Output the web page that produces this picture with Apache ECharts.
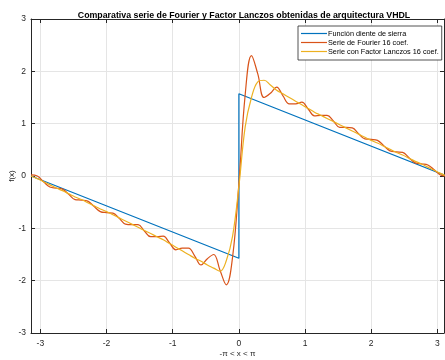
<!DOCTYPE html>
<html>
<head>
<meta charset="utf-8">
<script src="https://cdn.jsdelivr.net/npm/echarts@6/dist/echarts.min.js"></script>
<style>
    html, body { margin: 0; padding: 0; background: #fff; }
    #chart { width: 445px; height: 360px; }
</style>
</head>
<body>
<div id="chart"></div>
<script>
// funcion diente de sierra
var sierraX = [-3.1416, 0, 0, 3.1416];
var sierraY = [0, -1.5708, 1.5708, 0];

// puntos (x comun para Fourier y Lanczos)
var coefX = [-3.1416, -3.0464, -2.9512, -2.856, -2.7608, -2.6656, -2.5704, -2.4752, -2.38, -2.2848,
    -2.1896, -2.0944, -1.9992, -1.904, -1.8088, -1.7136, -1.6184, -1.5232, -1.428, -1.3328,
    -1.2376, -1.1424, -1.0472, -0.952, -0.8568, -0.7616, -0.6664, -0.5712, -0.476, -0.3808,
    -0.2856, -0.1904, -0.0952, 0,
    0.0952, 0.1904, 0.2856, 0.3808, 0.476, 0.5712, 0.6664, 0.7616, 0.8568, 0.952,
    1.0472, 1.1424, 1.2376, 1.3328, 1.428, 1.5232, 1.6184, 1.7136, 1.8088, 1.904,
    1.9992, 2.0944, 2.1896, 2.2848, 2.38, 2.4752, 2.5704, 2.6656, 2.7608, 2.856,
    2.9512, 3.0464, 3.1416];

var fourierY = [0.02, 0.0, -0.11, -0.21, -0.23, -0.25, -0.35, -0.45, -0.46, -0.48,
    -0.58, -0.68, -0.70, -0.71, -0.81, -0.92, -0.93, -0.93, -1.05, -1.16,
    -1.16, -1.15, -1.28, -1.41, -1.38, -1.38, -1.53, -1.70, -1.58, -1.50,
    -1.80, -2.08, -1.55, -0.15,
    1.55, 2.30, 1.95, 1.50, 1.58, 1.70, 1.53, 1.38, 1.38, 1.41,
    1.28, 1.15, 1.16, 1.16, 1.05, 0.93, 0.93, 0.92, 0.81, 0.71,
    0.70, 0.68, 0.58, 0.48, 0.46, 0.45, 0.35, 0.25, 0.23, 0.21,
    0.12, 0.02, 0.0];

var lanczosY = [0.0, -0.05, -0.11, -0.17, -0.23, -0.28, -0.34, -0.40, -0.45, -0.51,
    -0.57, -0.63, -0.68, -0.74, -0.80, -0.86, -0.92, -0.98, -1.04, -1.10,
    -1.16, -1.22, -1.29, -1.36, -1.43, -1.50, -1.57, -1.63, -1.70, -1.76,
    -1.82, -1.62, -1.15, -0.20,
    0.94, 1.50, 1.80, 1.83, 1.74, 1.64, 1.57, 1.50, 1.43, 1.36,
    1.29, 1.22, 1.16, 1.10, 1.04, 0.98, 0.92, 0.86, 0.80, 0.74,
    0.68, 0.63, 0.57, 0.51, 0.45, 0.40, 0.34, 0.28, 0.23, 0.17,
    0.11, 0.05, 0.0];

var legendNames = ['Función diente de sierra', 'Serie de Fourier 16 coef.', 'Serie con Factor Lanczos 16 coef.'];

function pares(xs, ys) {
    var out = [];
    for (var i = 0; i < xs.length; i++) {
        out.push([xs[i], ys[i]]);
    }
    return out;
}

var dom = document.getElementById('chart');
var myChart = echarts.init(dom, null, { renderer: 'canvas' });
var option = null;

var ejeColor = '#262626';
var gridColor = '#e5e5e5';
var fuente = 'Liberation Sans, Arial, sans-serif';

option = {
    animation: false,
    backgroundColor: '#fff',
    title: {
        text: 'Comparativa serie de Fourier y Factor Lanczos obtenidas de arquitectura VHDL',
        left: 239,
        textAlign: 'center',
        top: 6,
        textStyle: { fontFamily: fuente, fontSize: 8.8, fontWeight: 'bold', color: '#000' }
    },
    legend: {
        data: legendNames,
        orient: 'vertical',
        left: 298,
        top: 26,
        padding: [4, 3, 5, 3],
        itemGap: 2,
        itemWidth: 26,
        itemHeight: 8,
        backgroundColor: '#fff',
        borderColor: ejeColor,
        borderWidth: 0.8,
        borderRadius: 0,
        icon: 'path://M0,3.5 L26,3.5 L26,4.7 L0,4.7 Z',
        textStyle: { fontFamily: fuente, fontSize: 7.3, color: '#000', padding: [0, 0, 0, -4] }
    },
    grid: {
        left: 31,
        right: 1,
        top: 19,
        bottom: 27,
        outerBoundsMode: 'none',
        containLabel: false
    },
    xAxis: [{
        type: 'value',
        min: -3.1416,
        max: 3.1,
        name: '-π < x < π',
        nameLocation: 'middle',
        nameGap: 17,
        nameMoveOverlap: false,
        nameTextStyle: { fontFamily: fuente, fontSize: 8, color: '#262626' },
        axisLine: { onZero: false, lineStyle: { color: ejeColor, width: 1 } },
        axisTick: { inside: true, length: 4, lineStyle: { color: ejeColor } },
        axisLabel: {
            fontFamily: fuente, fontSize: 8.5, color: '#262626', margin: 6,
            showMinLabel: false, showMaxLabel: false,
            formatter: function (v) { return Number.isInteger(v) ? String(v) : ''; }
        },
        splitLine: { show: true, lineStyle: { color: gridColor, width: 1 } }
    }, {
        type: 'value',
        position: 'top',
        min: -3.1416,
        max: 3.1,
        axisLine: { onZero: false, lineStyle: { color: ejeColor, width: 1 } },
        axisTick: { inside: true, length: 4, lineStyle: { color: ejeColor } },
        axisLabel: { show: false },
        splitLine: { show: false }
    }],
    yAxis: [{
        type: 'value',
        min: -3,
        max: 3,
        interval: 1,
        name: 'f(x)',
        nameLocation: 'middle',
        nameGap: 15,
        nameMoveOverlap: false,
        nameTextStyle: { fontFamily: fuente, fontSize: 8, color: '#262626' },
        axisLine: { onZero: false, lineStyle: { color: ejeColor, width: 1 } },
        axisTick: { inside: true, length: 4, lineStyle: { color: ejeColor } },
        axisLabel: { fontFamily: fuente, fontSize: 8.5, color: '#262626', margin: 5 },
        splitLine: { show: true, lineStyle: { color: gridColor, width: 1 } }
    }, {
        type: 'value',
        position: 'right',
        min: -3,
        max: 3,
        interval: 1,
        axisLine: { onZero: false, lineStyle: { color: ejeColor, width: 1 } },
        axisTick: { inside: true, length: 4, lineStyle: { color: ejeColor } },
        axisLabel: { show: false },
        splitLine: { show: false }
    }],
    series: [{
        name: legendNames[0],
        type: 'line',
        data: pares(sierraX, sierraY),
        showSymbol: false,
        color: '#0072BD',
        lineStyle: { width: 1.2, color: '#0072BD' }
    }, {
        name: legendNames[1],
        type: 'line',
        data: pares(coefX, fourierY),
        showSymbol: false,
        smooth: 0.4,
        color: '#D95319',
        lineStyle: { width: 1.2, color: '#D95319' }
    }, {
        name: legendNames[2],
        type: 'line',
        data: pares(coefX, lanczosY),
        showSymbol: false,
        smooth: 0.4,
        color: '#EDB120',
        lineStyle: { width: 1.2, color: '#EDB120' }
    }]
};

if (option && typeof option === 'object') {
    myChart.setOption(option, true);
}
</script>
</body>
</html>
